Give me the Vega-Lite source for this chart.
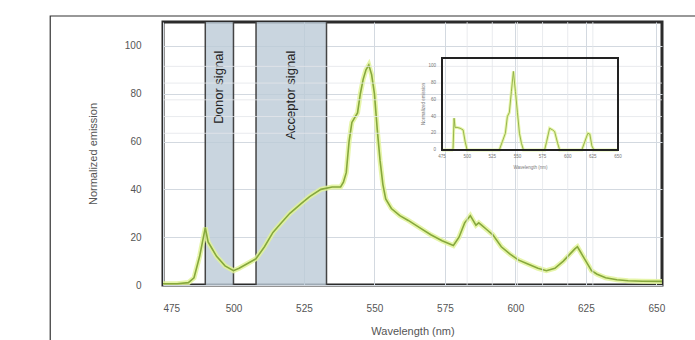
{
  "$schema": "https://vega.github.io/schema/vega-lite/v6.json",
  "width": 499,
  "height": 263,
  "autosize": "none",
  "padding": {"left": 163, "top": 22, "right": 33, "bottom": 55},
  "background": "white",
  "config": {
    "font": "Liberation Sans",
    "view": {"stroke": "#2b2b2b", "strokeWidth": 3},
    "axis": {"gridColor": "#d3d9e0", "gridWidth": 1, "domain": false, "ticks": false, "labelColor": "#555", "titleColor": "#555", "labelFontSize": 10, "titleFontSize": 11, "titleFontWeight": "normal"}
  },
  "datasets": {
    "spectrum": [
      {"wl": 475, "v": 0.5}, {"wl": 480, "v": 0.5}, {"wl": 484, "v": 1}, {"wl": 486, "v": 3}, {"wl": 488, "v": 12}, {"wl": 490, "v": 24}, {"wl": 491, "v": 18}, {"wl": 492, "v": 16}, {"wl": 494, "v": 12}, {"wl": 497, "v": 8}, {"wl": 500, "v": 6}, {"wl": 502, "v": 7}, {"wl": 505, "v": 9}, {"wl": 508, "v": 11}, {"wl": 511, "v": 16}, {"wl": 514, "v": 22}, {"wl": 517, "v": 26}, {"wl": 520, "v": 30}, {"wl": 524, "v": 34}, {"wl": 527, "v": 37}, {"wl": 531, "v": 40}, {"wl": 535, "v": 41}, {"wl": 538, "v": 41}, {"wl": 539, "v": 43}, {"wl": 540, "v": 47}, {"wl": 541, "v": 60}, {"wl": 542, "v": 68}, {"wl": 543, "v": 70}, {"wl": 544, "v": 72}, {"wl": 545, "v": 80}, {"wl": 546, "v": 86}, {"wl": 547, "v": 90}, {"wl": 548, "v": 92}, {"wl": 549, "v": 88}, {"wl": 550, "v": 80}, {"wl": 551, "v": 65}, {"wl": 552, "v": 52}, {"wl": 553, "v": 42}, {"wl": 554, "v": 36}, {"wl": 556, "v": 32}, {"wl": 559, "v": 29}, {"wl": 562, "v": 27}, {"wl": 566, "v": 24}, {"wl": 570, "v": 21}, {"wl": 574, "v": 18.5}, {"wl": 578, "v": 16.5}, {"wl": 580, "v": 20}, {"wl": 582, "v": 26}, {"wl": 584, "v": 29}, {"wl": 585, "v": 27}, {"wl": 586, "v": 25}, {"wl": 587, "v": 26}, {"wl": 588, "v": 25}, {"wl": 590, "v": 23}, {"wl": 592, "v": 21}, {"wl": 595, "v": 16}, {"wl": 598, "v": 13}, {"wl": 601, "v": 10.5}, {"wl": 604, "v": 9}, {"wl": 608, "v": 7}, {"wl": 611, "v": 6}, {"wl": 614, "v": 7}, {"wl": 617, "v": 10}, {"wl": 619, "v": 12.5}, {"wl": 621, "v": 15}, {"wl": 622, "v": 16}, {"wl": 623, "v": 14}, {"wl": 624, "v": 12}, {"wl": 625, "v": 10}, {"wl": 627, "v": 6}, {"wl": 629, "v": 4.5}, {"wl": 632, "v": 3}, {"wl": 636, "v": 2.2}, {"wl": 640, "v": 1.8}, {"wl": 645, "v": 1.6}, {"wl": 652, "v": 1.5}
    ],
    "inset": [
      {"wl": 475, "v": 0}, {"wl": 485, "v": 0}, {"wl": 486, "v": 2}, {"wl": 487, "v": 38}, {"wl": 488, "v": 27}, {"wl": 490, "v": 27}, {"wl": 493, "v": 26}, {"wl": 496, "v": 24}, {"wl": 498, "v": 10}, {"wl": 500, "v": 0}, {"wl": 532, "v": 0}, {"wl": 535, "v": 10}, {"wl": 538, "v": 20}, {"wl": 540, "v": 40}, {"wl": 542, "v": 45}, {"wl": 544, "v": 70}, {"wl": 546, "v": 94}, {"wl": 548, "v": 70}, {"wl": 550, "v": 45}, {"wl": 552, "v": 20}, {"wl": 554, "v": 8}, {"wl": 556, "v": 0}, {"wl": 577, "v": 0}, {"wl": 579, "v": 10}, {"wl": 582, "v": 26}, {"wl": 585, "v": 24}, {"wl": 587, "v": 22}, {"wl": 590, "v": 8}, {"wl": 592, "v": 0}, {"wl": 614, "v": 0}, {"wl": 617, "v": 10}, {"wl": 620, "v": 20}, {"wl": 622, "v": 19}, {"wl": 624, "v": 5}, {"wl": 626, "v": 0}, {"wl": 650, "v": 0}
    ]
  },
  "layer": [
    {
      "layer": [
        {
          "data": {"values": [{"x1": 490, "x2": 500}, {"x1": 508, "x2": 533}]},
          "mark": {"type": "rect", "fill": "#bccad7", "opacity": 0.8},
          "encoding": {
            "x": {"field": "x1", "type": "quantitative", "scale": {"domain": [475, 652], "nice": false, "zero": false}, "axis": {"values": [475, 500, 525, 550, 575, 600, 625, 650], "title": "Wavelength (nm)", "labelPadding": 18, "titlePadding": 12, "grid": true}},
            "x2": {"field": "x2"}
          }
        },
        {
          "data": {"values": [{"x": 490}, {"x": 500}, {"x": 508}, {"x": 533}]},
          "mark": {"type": "rule", "color": "#444", "strokeWidth": 1.5},
          "encoding": {"x": {"field": "x", "type": "quantitative"}}
        },
        {
          "data": {"name": "spectrum"},
          "mark": {"type": "line", "color": "#e2f39a", "strokeWidth": 5, "opacity": 0.85, "clip": true},
          "encoding": {
            "x": {"field": "wl", "type": "quantitative"},
            "y": {"field": "v", "type": "quantitative", "scale": {"domain": [0, 110], "nice": false}, "axis": {"values": [0, 20, 40, 60, 80, 100], "title": "Normalized emission", "labelPadding": 22, "titlePadding": 26, "grid": true}}
          }
        },
        {
          "data": {"name": "spectrum"},
          "mark": {"type": "line", "color": "#86a83c", "strokeWidth": 1.6, "clip": true},
          "encoding": {
            "x": {"field": "wl", "type": "quantitative"},
            "y": {"field": "v", "type": "quantitative"}
          }
        },
        {
          "data": {"values": [{"x": 495, "y": 98, "t": "Donor signal"}, {"x": 520.4, "y": 98, "t": "Acceptor signal"}]},
          "mark": {"type": "text", "angle": 270, "align": "right", "baseline": "middle", "fontSize": 13, "color": "#222"},
          "encoding": {
            "x": {"field": "x", "type": "quantitative"},
            "y": {"field": "y", "type": "quantitative"},
            "text": {"field": "t"}
          }
        },
        {
          "data": {"values": [{"x1": 435, "x2": 690, "y1": 112.5, "y2": -30}]},
          "mark": {"type": "rect", "fill": null, "fillOpacity": 0, "stroke": "#333", "strokeWidth": 1.2, "clip": false},
          "encoding": {
            "x": {"field": "x1", "type": "quantitative"},
            "x2": {"field": "x2"},
            "y": {"field": "y1", "type": "quantitative"},
            "y2": {"field": "y2"}
          }
        }
      ]
    },
    {
      "layer": [
        {
          "data": {"values": [{"x": 500}, {"x": 525}, {"x": 550}, {"x": 575}, {"x": 600}, {"x": 625}]},
          "mark": {"type": "rule", "color": "#e3e6ea", "strokeWidth": 0.8},
          "encoding": {
            "x": {"field": "x", "type": "quantitative", "scale": {"domain": [475, 650], "range": [279, 455], "nice": false, "zero": false}, "axis": null}
          }
        },
        {
          "data": {"values": [{"y": 20}, {"y": 40}, {"y": 60}, {"y": 80}, {"y": 100}]},
          "mark": {"type": "rule", "color": "#e3e6ea", "strokeWidth": 0.8},
          "encoding": {
            "y": {"field": "y", "type": "quantitative", "scale": {"domain": [0, 110], "range": [128, 36], "nice": false, "zero": false}, "axis": null}
          }
        },
        {
          "data": {"name": "inset"},
          "mark": {"type": "line", "color": "#e2f39a", "strokeWidth": 3, "opacity": 0.85},
          "encoding": {
            "x": {"field": "wl", "type": "quantitative"},
            "y": {"field": "v", "type": "quantitative"}
          }
        },
        {
          "data": {"name": "inset"},
          "mark": {"type": "line", "color": "#8fae45", "strokeWidth": 0.9},
          "encoding": {
            "x": {"field": "wl", "type": "quantitative"},
            "y": {"field": "v", "type": "quantitative"}
          }
        },
        {
          "data": {"values": [{"x1": 475, "x2": 650, "y1": 0, "y2": 110}]},
          "mark": {"type": "rect", "fill": null, "fillOpacity": 0, "stroke": "#222", "strokeWidth": 2},
          "encoding": {
            "x": {"field": "x1", "type": "quantitative"},
            "x2": {"field": "x2"},
            "y": {"field": "y1", "type": "quantitative"},
            "y2": {"field": "y2"}
          }
        },
        {
          "data": {"values": [{"x": 475, "t": "475"}, {"x": 500, "t": "500"}, {"x": 525, "t": "525"}, {"x": 550, "t": "550"}, {"x": 575, "t": "575"}, {"x": 600, "t": "600"}, {"x": 625, "t": "625"}, {"x": 650, "t": "650"}]},
          "mark": {"type": "text", "fontSize": 4.5, "color": "#777", "baseline": "middle"},
          "encoding": {
            "x": {"field": "x", "type": "quantitative"},
            "y": {"datum": -8, "type": "quantitative"},
            "text": {"field": "t"}
          }
        },
        {
          "data": {"values": [{"y": 0, "t": "0"}, {"y": 20, "t": "20"}, {"y": 40, "t": "40"}, {"y": 60, "t": "60"}, {"y": 80, "t": "80"}, {"y": 100, "t": "100"}]},
          "mark": {"type": "text", "fontSize": 4.5, "color": "#777", "align": "right", "baseline": "middle"},
          "encoding": {
            "x": {"datum": 469, "type": "quantitative"},
            "y": {"field": "y", "type": "quantitative"},
            "text": {"field": "t"}
          }
        },
        {
          "data": {"values": [{"x": 563, "y": -21, "t": "Wavelength (nm)"}]},
          "mark": {"type": "text", "fontSize": 4.5, "color": "#777", "baseline": "middle"},
          "encoding": {
            "x": {"field": "x", "type": "quantitative"},
            "y": {"field": "y", "type": "quantitative"},
            "text": {"field": "t"}
          }
        },
        {
          "data": {"values": [{"x": 457, "y": 55, "t": "Normalized emission"}]},
          "mark": {"type": "text", "fontSize": 4.5, "color": "#777", "angle": 270, "baseline": "middle"},
          "encoding": {
            "x": {"field": "x", "type": "quantitative"},
            "y": {"field": "y", "type": "quantitative"},
            "text": {"field": "t"}
          }
        }
      ]
    }
  ],
  "resolve": {"scale": {"x": "independent", "y": "independent"}, "axis": {"x": "independent", "y": "independent"}}
}
